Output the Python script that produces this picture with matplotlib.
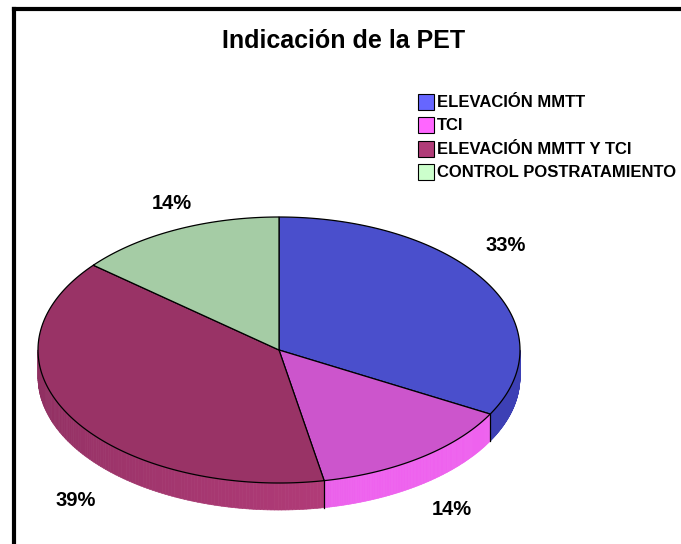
import numpy as np
import matplotlib
matplotlib.use("Agg")
import matplotlib.pyplot as plt
from matplotlib.patches import Polygon, Rectangle
from matplotlib.collections import PolyCollection
from matplotlib.colors import to_rgb

# ---- data ----
categories = ["ELEVACIÓN MMTT", "TCI", "ELEVACIÓN MMTT Y TCI", "CONTROL POSTRATAMIENTO"]
values = [33, 14, 39, 14]
pct_labels = ["33%", "14%", "39%", "14%"]
title = "Indicación de la PET"

# ---- style ----
top_colors = ["#4A4FCC", "#CC55CC", "#993366", "#A5CCA5"]
side_colors = ["#3D40B5", "#EE62EE", "#B43C7A", "#8FB38F"]
legend_colors = ["#6666FF", "#FF66FF", "#B03C78", "#CCFFCC"]
label_offsets = [(19, -37), (31, 25), (4, 56), (-5, -26)]  # px from rim point

FONT = ["Liberation Sans Narrow", "Liberation Sans", "DejaVu Sans"]

W, H = 681, 544
fig = plt.figure(figsize=(W / 100, H / 100), dpi=100)
ax = fig.add_axes([0, 0, 1, 1])
ax.set_xlim(0, W)
ax.set_ylim(H, 0)
ax.axis("off")

cx, cy, a, b, depth = 279, 350, 241, 133, 27


def pt(theta_deg, dy=0.0):
    t = np.radians(theta_deg)
    return cx + a * np.cos(t), cy - b * np.sin(t) + dy


total = float(sum(values))
starts, ends = [], []
t0 = 90.0
for v in values:
    t1 = t0 - 360.0 * v / total
    starts.append(t0)
    ends.append(t1)
    t0 = t1

# sides (front part only: theta in [-180, 0])
for i in range(len(values)):
    lo = max(ends[i], -180.0)
    hi = min(starts[i], 0.0)
    if hi <= lo:
        continue
    ths = np.linspace(lo, hi, 120)
    polys, cols = [], []
    base = np.array(to_rgb(side_colors[i]))
    for k in range(len(ths) - 1):
        p0 = pt(ths[k]); p1 = pt(ths[k + 1])
        q1 = pt(ths[k + 1], depth); q0 = pt(ths[k], depth)
        polys.append([p0, p1, q1, q0])
        m = 0.5 * (ths[k] + ths[k + 1])
        f = 0.78 + 0.22 * np.clip((m + 180) / 110.0, 0, 1)
        cols.append(np.clip(base * f, 0, 1))
    pc = PolyCollection(polys, facecolors=cols, edgecolors=cols, linewidths=0.5, zorder=1)
    ax.add_collection(pc)

# vertical boundary lines on the side
for t in starts:
    tt = ((t + 180) % 360) - 180
    if -180 < tt < 0:
        x0, y0 = pt(tt)
        x1, y1 = pt(tt, depth)
        ax.plot([x0, x1], [y0, y1], color="black", lw=0.9, zorder=3)

# top wedges
for i in range(len(values)):
    ths = np.linspace(starts[i], ends[i], 200)
    verts = [(cx, cy)] + [pt(t) for t in ths]
    ax.add_patch(Polygon(verts, closed=True, facecolor=top_colors[i],
                         edgecolor="black", lw=0.9, zorder=2))

# percentage labels
for i in range(len(values)):
    mid = 0.5 * (starts[i] + ends[i])
    x, y = pt(mid, depth if np.sin(np.radians(mid)) < 0 else 0)
    dx, dy = label_offsets[i]
    ax.text(x + dx, y + dy, pct_labels[i], ha="center", va="center",
            fontsize=14.5, fontweight="bold", family=FONT, zorder=5)

# title
ax.text(344, 41, title, ha="center", va="center", fontsize=18,
        fontweight="bold", family=FONT)

# legend
lx, ly0, step, box = 418, 102, 23.3, 16
for i, c in enumerate(categories):
    y = ly0 + i * step
    ax.add_patch(Rectangle((lx, y - box / 2), box, box, facecolor=legend_colors[i],
                           edgecolor="black", lw=0.8, zorder=4))
    ax.text(lx + box + 3, y + 0.5, c, ha="left", va="center", fontsize=12,
            fontweight="bold", family=FONT, zorder=4)

# frame (left and top border)
ax.plot([14, 14], [9, H + 10], color="black", lw=3, solid_capstyle="projecting", clip_on=False)
ax.plot([14, W + 10], [9, 9], color="black", lw=3, solid_capstyle="projecting", clip_on=False)

fig.savefig("out.png", dpi=100)
